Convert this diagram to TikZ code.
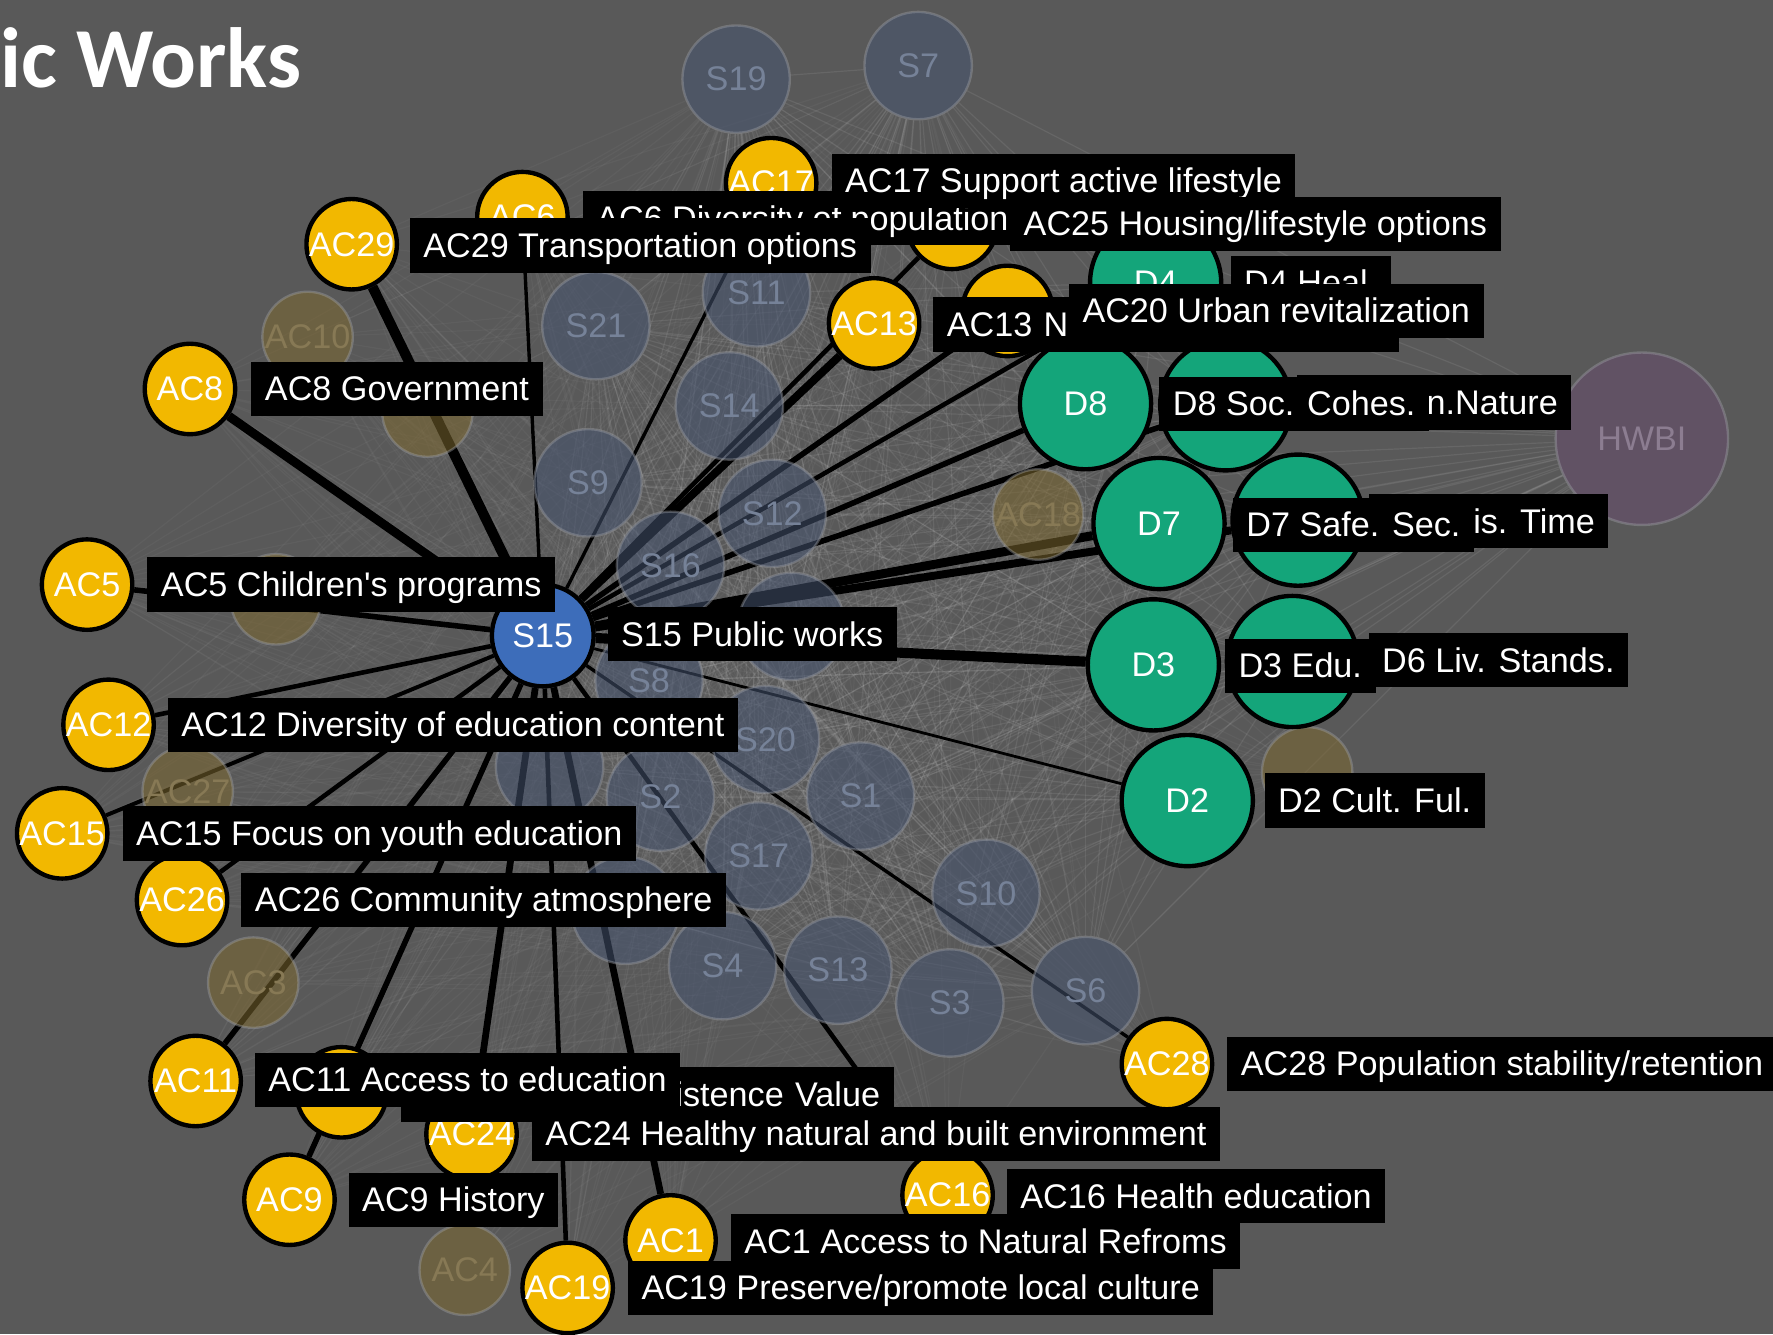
\documentclass[tikz,border=0pt]{standalone}
\usepackage{fontspec}
\setmainfont{Liberation Sans}[Ligatures=TeXOff]
\newfontfamily\titlefamily{Carlito}
\pgfdeclarelayer{bgl}
\pgfdeclarelayer{edgel}
\pgfdeclarelayer{fadedl}
\pgfdeclarelayer{labell}
\pgfsetlayers{bgl,edgel,fadedl,main,labell}
\definecolor{bgc}{RGB}{89,89,89}
\definecolor{acy}{RGB}{242,184,0}
\definecolor{dgr}{RGB}{20,165,122}
\definecolor{sblue}{RGB}{61,109,186}
\definecolor{fsfill}{RGB}{70,84,112}
\definecolor{fsline}{RGB}{160,162,168}
\definecolor{fstext}{RGB}{118,130,152}
\definecolor{fafill}{RGB}{125,104,48}
\definecolor{fatext}{RGB}{135,121,85}
\definecolor{hwfill}{RGB}{105,78,110}
\definecolor{hwtext}{RGB}{140,125,145}
\tikzset{
  lblfont/.style={font=\fontsize{17.2}{20}\selectfont},
  acnode/.style={circle, fill=acy, draw=black, line width=2.2pt, minimum size=1.6cm, inner sep=0pt, text=white, lblfont},
  dnode/.style={acnode, fill=dgr, minimum size=2.32cm},
  snode/.style={acnode, fill=sblue, minimum size=1.8cm},
  fsnode/.style={circle, fill=fsfill, fill opacity=0.55, draw=fsline, draw opacity=0.4, line width=1.2pt, minimum size=1.9cm, inner sep=0pt, text=fstext, text opacity=1, lblfont},
  fanode/.style={fsnode, fill=fafill, minimum size=1.6cm, text=fatext},
  hwnode/.style={fsnode, fill=hwfill, minimum size=3.05cm, text=hwtext},
  lbl/.style={fill=black, text=white, anchor=west, minimum height=0.96cm, inner xsep=0.24cm, inner ysep=0pt, text height=14pt, text depth=2.1pt, lblfont},
  fg/.style={draw=black},
  mesh/.style={draw=white, opacity=0.08, line width=0.6pt},
  meshb/.style={draw=white, opacity=0.035, line width=0.6pt},
  titlestyle/.style={anchor=base west, inner sep=0pt, text=white, font=\titlefamily\bfseries\fontsize{43}{50}\selectfont},
}
\begin{document}
\begin{tikzpicture}[x=0.02cm,y=-0.02cm]
\useasboundingbox (0,0) rectangle (1568,1180);
\begin{pgfonlayer}{bgl}
\fill[bgc] (0,0) rectangle (1568,1180);
\end{pgfonlayer}

% faded background network
\begin{pgfonlayer}{fadedl}
\node[fsnode] (fs19) at (651,70) {S19};
\node[fsnode] (fs7) at (812,58) {S7};
\node[fsnode] (fs21) at (527,288) {S21};
\node[fsnode] (fs11) at (669,259) {S11};
\node[fsnode] (fs14) at (645,359) {S14};
\node[fsnode] (fs9) at (520,427) {S9};
\node[fsnode] (fs12) at (683,454) {S12};
\node[fsnode] (fs16) at (593,500) {S16};
\node[fsnode] (fs8) at (574,602) {S8};
\node[fsnode] (fs20) at (677,654) {S20};
\node[fsnode] (fs2) at (584,705) {S2};
\node[fsnode] (fs1) at (761,704) {S1};
\node[fsnode] (fs17) at (671,757) {S17};
\node[fsnode] (fs10) at (872,790) {S10};
\node[fsnode] (fs4) at (639,854) {S4};
\node[fsnode] (fs13) at (741,858) {S13};
\node[fsnode] (fs3) at (840,887) {S3};
\node[fsnode] (fs6) at (960,876) {S6};
\node[fsnode] (fu1) at (700,554) {};
\node[fsnode] (fu2) at (486,678) {};
\node[fsnode] (fu3) at (553,805) {};
\node[fanode] (fac10) at (272,298) {AC10};
\node[fanode] (fu4) at (378,364) {};
\node[fanode] (fac27) at (166,700) {AC27};
\node[fanode] (fac3) at (224,869) {AC3};
\node[fanode] (fac4) at (411,1123) {AC4};
\node[fanode] (fac18) at (918,455) {AC18};
\node[fanode] (fu5) at (244,530) {};
\node[fanode] (fu6) at (1156,683) {};
\node[hwnode] (hwbi) at (1452,388) {HWBI};
\end{pgfonlayer}

% foreground circles
\node[snode] (s15) at (480,562) {S15};
\node[acnode] (ac17) at (682,162) {AC17};
\node[acnode] (ac6) at (462,192) {AC6};
\node[acnode] (ac25) at (842,198) {AC25};
\node[acnode] (ac29) at (311,216) {AC29};
\node[acnode] (ac13) at (773,286) {AC13};
\node[acnode] (ac20) at (891,275) {AC20};
\node[acnode] (ac8) at (168,344) {AC8};
\node[acnode] (ac5) at (77,517) {AC5};
\node[acnode] (ac12) at (96,641) {AC12};
\node[acnode] (ac15) at (55,737) {AC15};
\node[acnode] (ac26) at (161,796) {AC26};
\node[acnode] (ac11) at (173,956) {AC11};
\node[acnode] (acx) at (302,966) {};
\node[acnode] (ac24) at (417,1003) {AC24};
\node[acnode] (ac9) at (256,1061) {AC9};
\node[acnode] (ac1) at (593,1097) {AC1};
\node[acnode] (ac19) at (502,1139) {AC19};
\node[acnode] (ac16) at (838,1057) {AC16};
\node[acnode] (ac28) at (1032,941) {AC28};
\node[dnode] (d4) at (1022,250) {D4};
\node[dnode] (d8) at (960,357) {D8};
\node[dnode] (d1) at (1084,358) {};
\node[dnode] (d7) at (1025,463) {D7};
\node[dnode] (d5) at (1148,460) {};
\node[dnode] (d3) at (1020,588) {D3};
\node[dnode] (d6) at (1143,585) {};
\node[dnode] (d2) at (1050,708) {D2};

% labels
\begin{pgfonlayer}{labell}
\node[titlestyle] (title) at (0,77) {ic Works};
\node[lbl] (lac6) at (515,193) {AC6 Diversity of population};
\node[lbl] (lac17) at (735,160) {AC17 Support active lifestyle};
\node[lbl] (lac25) at (893,198) {AC25 Housing/lifestyle options};
\node[lbl] (lac29) at (362,217) {AC29 Transportation options};
\node[lbl] (ld4) at (1088,250) {D4 Heal.};
\node[lbl, text width=7.76cm, align=left] (lac13) at (825,287) {AC13 N};
\node[lbl] (lac20) at (945,275) {AC20 Urban revitalization};
\node[lbl] (lac8) at (222,344) {AC8 Government};
\node[lbl] (ld1) at (1147,356) {D1 Conn.Nature};
\node[lbl] (ld8) at (1025,357) {D8 Soc. Cohes.};
\node[lbl] (ld5) at (1210,461) {D5 Leis. Time};
\node[lbl] (ld7) at (1090,464) {D7 Safe. Sec.};
\node[lbl] (ld6) at (1210,584) {D6 Liv. Stands.};
\node[lbl] (ld3) at (1083,589) {D3 Edu.};
\node[lbl] (ld2) at (1118,708) {D2 Cult. Ful.};
\node[lbl] (lac5) at (130,517) {AC5 Children's programs};
\node[lbl] (ls15) at (537,561) {S15 Public works};
\node[lbl] (lac12) at (148,641) {AC12 Diversity of education content};
\node[lbl] (lac15) at (108,737) {AC15 Focus on youth education};
\node[lbl] (lac26) at (213,796) {AC26 Community atmosphere};
\node[lbl, text width=8.24cm, align=right] (lacx) at (354,968) {istence Value};
\node[lbl] (lac11) at (225,955) {AC11 Access to education};
\node[lbl] (lac24) at (470,1003) {AC24 Healthy natural and built environment};
\node[lbl] (lac9) at (308,1061) {AC9 History};
\node[lbl] (lac16) at (890,1058) {AC16 Health education};
\node[lbl] (lac1) at (646,1098) {AC1 Access to Natural Refroms};
\node[lbl] (lac19) at (555,1139) {AC19 Preserve/promote local culture};
\node[lbl] (lac28) at (1085,941) {AC28 Population stability/retention};
\end{pgfonlayer}

% foreground edges
\begin{pgfonlayer}{edgel}
\draw[fg, line width=5.1pt] (s15) -- (ac29);
\draw[fg, line width=4.5pt] (s15) -- (ac8);
\draw[fg, line width=1.7pt] (s15) -- (ac6);
\draw[fg, line width=1.7pt] (s15) -- (ac17);
\draw[fg, line width=2.8pt] (s15) -- (ac5);
\draw[fg, line width=2.3pt] (s15) -- (ac12);
\draw[fg, line width=2.0pt] (s15) -- (ac15);
\draw[fg, line width=2.3pt] (s15) -- (ac26);
\draw[fg, line width=2.8pt] (s15) -- (ac11);
\draw[fg, line width=2.8pt] (s15) -- (ac9);
\draw[fg, line width=3.4pt] (s15) -- (ac24);
\draw[fg, line width=2.3pt] (s15) -- (ac19);
\draw[fg, line width=3.4pt] (s15) -- (ac1);
\draw[fg, line width=2.3pt] (s15) -- (ac16);
\draw[fg, line width=1.7pt] (s15) -- (ac28);
\draw[fg, line width=1.4pt] (s15) -- (d2);
\draw[fg, line width=5.1pt] (s15) -- (d3);
\draw[fg, line width=4.5pt] (s15) -- (d7);
\draw[fg, line width=4.0pt] (s15) -- (d5);
\draw[fg, line width=2.8pt] (s15) -- (d8);
\draw[fg, line width=2.8pt] (s15) -- (d1);
\draw[fg, line width=2.8pt] (s15) -- (ac20);
\draw[fg, line width=4.0pt] (s15) -- (ac13);
\draw[fg, line width=2.3pt] (s15) -- (d4);
\draw[fg, line width=2.3pt] (s15) -- (ac25);
\end{pgfonlayer}

% faint background mesh
\def\Slist{fs1,fs2,fs3,fs4,fs6,fs7,fs8,fs9,fs10,fs11,fs12,fs13,fs14,fs16,fs17,fs19,fs20,fs21,fu1,fu2,fu3,s15}
\def\Dlist{d1,d2,d3,d4,d5,d6,d7,d8,hwbi}
\def\AClist{ac1,ac5,ac6,ac8,ac9,ac11,ac12,ac13,ac15,ac16,ac17,ac19,ac20,ac24,ac25,ac26,ac28,ac29,acx,fac3,fac4,fac10,fac18,fac27,fu4,fu5,fu6}
\begin{pgfonlayer}{bgl}
\foreach \a [count=\i] in \Slist {
  \foreach \b [count=\j] in \Slist {
    \ifnum\j>\i \draw[mesh] (\a) -- (\b); \fi
  }
}
\foreach \a in \Slist { \foreach \b in \Dlist { \draw[mesh] (\a) -- (\b); } }
\foreach \a in \Slist { \foreach \b in \AClist { \draw[meshb] (\a) -- (\b); } }
\foreach \b in {d1,d2,d3,d4,d5,d6,d7,d8} { \draw[mesh] (hwbi) -- (\b); }
\end{pgfonlayer}
\end{tikzpicture}
\end{document}
